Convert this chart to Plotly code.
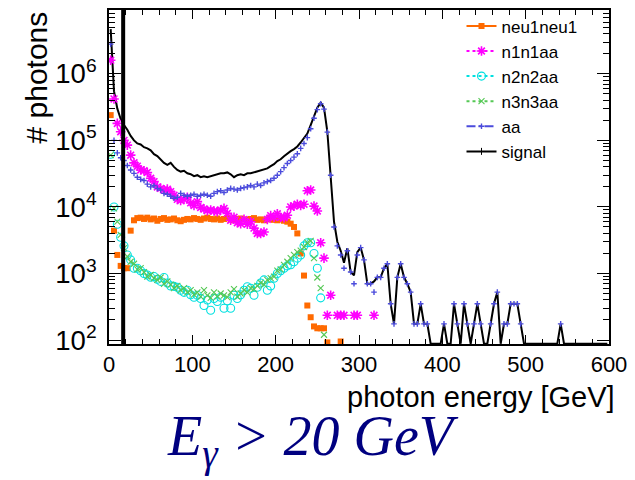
import plotly.graph_objects as go

# ---------------- data (histograms, 4 GeV bins from 0 to 600 GeV) ----------------
N_BINS = 150
E_LOW, E_HIGH = 0.0, 600.0
bin_w = (E_HIGH - E_LOW) / N_BINS
energy = [E_LOW + bin_w * (i + 0.5) for i in range(N_BINS)]

signal = [
    4.7e6, 5.5e5, 3.0e5, 2.1e5, 1.7e5, 1.45e5, 1.17e5, 1.0e5, 9.0e4, 8.7e4,
    7.9e4, 7.6e4, 7.1e4, 6.2e4, 5.8e4, 5.2e4, 4.6e4, 4.3e4, 4.6e4, 4.0e4,
    3.6e4, 3.4e4, 3.5e4, 3.2e4, 3.1e4, 2.9e4, 3.0e4, 2.8e4, 2.9e4, 2.8e4,
    2.9e4, 3.0e4, 3.1e4, 3.2e4, 3.2e4, 3.3e4, 3.1e4, 2.8e4, 3.0e4, 3.1e4,
    3.0e4, 3.2e4, 3.2e4, 3.3e4, 3.4e4, 3.6e4, 3.7e4, 3.8e4, 4.1e4, 4.4e4,
    4.9e4, 5.2e4, 5.8e4, 6.4e4, 6.9e4, 7.4e4, 8.1e4, 9.3e4, 1.07e5, 1.27e5,
    1.7e5, 2.36e5, 3.1e5, 3.7e5, 3.1e5, 1.36e5, 3.2e4, 6.0e3, 3.0e3, 2.2e3,
    1.45e3, 2.4e3, 1.05e3, 935, 2.1e3, 2.45e3, 1.6e3, 700, 700, 760,
    875, 875, 1200, 1400, 350, 175, 875, 1400, 875, 700,
    525, 175, 175, 350, 175, 175, 0, 0, 0, 0,
    175, 0, 0, 350, 175, 0, 350, 175, 0, 175,
    350, 175, 0, 0, 175, 350, 525, 0, 175, 175,
    350, 350, 350, 175, 0, 0, 0, 0, 0, 0,
    0, 0, 0, 0, 0, 175, 0, 0, 0, 0,
    0, 0, 0, 0, 0, 0, 0, 0, 0, 0,
]

aa = [
    2.8e6, 1.0e5, 6.5e4, 5.5e4, 5.0e4, 4.2e4, 3.6e4, 3.2e4, 2.8e4, 2.6e4,
    2.5e4, 2.2e4, 2.0e4, 2.1e4, 1.9e4, 1.8e4, 1.6e4, 1.55e4, 1.45e4, 1.35e4,
    1.4e4, 1.6e4, 1.5e4, 1.45e4, 1.5e4, 1.55e4, 1.45e4, 1.5e4, 1.55e4, 1.5e4,
    1.45e4, 1.6e4, 1.7e4, 1.75e4, 1.65e4, 1.8e4, 1.9e4, 1.85e4, 1.8e4, 1.9e4,
    1.95e4, 2.0e4, 2.1e4, 2.0e4, 2.2e4, 2.1e4, 2.3e4, 2.4e4, 2.5e4, 2.7e4,
    3.0e4, 3.4e4, 3.9e4, 4.5e4, 5.0e4, 5.6e4, 6.3e4, 7.6e4, 9.0e4, 1.1e5,
    1.5e5, 2.15e5, 2.9e5, 3.55e5, 2.95e5, 1.33e5, 3.0e4, 5.0e3, 2.6e3, 1.9e3,
    1.2e3, 2.2e3, 1.05e3, 700, 1.9e3, 2.45e3, 1.6e3, 700, 700, 525,
    875, 875, 1200, 1400, 350, 175, 875, 1400, 875, 700,
    525, 175, 175, 350, 175, 175, 0, 0, 0, 0,
    175, 0, 0, 350, 175, 0, 350, 175, 0, 175,
    350, 175, 0, 0, 175, 350, 525, 0, 175, 175,
    350, 350, 350, 175, 0, 0, 0, 0, 0, 0,
    0, 0, 0, 0, 0, 175, 0, 0, 0, 0,
    0, 0, 0, 0, 0, 0, 0, 0, 0, 0,
]

n1n1aa = [
    1.6e6, 4.2e5, 1.8e5, 1.35e5, 1.0e5, 8.5e4, 6.0e4, 4.6e4, 4.1e4, 3.6e4,
    3.5e4, 3.3e4, 2.7e4, 2.4e4, 2.0e4, 1.9e4, 1.8e4, 1.85e4, 1.7e4, 1.5e4,
    1.3e4, 1.25e4, 1.3e4, 1.4e4, 1.15e4, 1.05e4, 1.2e4, 9.8e3, 9.3e3, 8.8e3,
    9.0e3, 8.7e3, 8.5e3, 9.0e3, 9.5e3, 8.0e3, 6.3e3, 7.0e3, 5.8e3, 5.6e3,
    6.5e3, 5.5e3, 6.0e3, 4.8e3, 4.0e3, 4.0e3, 4.2e3, 6.5e3, 7.4e3, 7.0e3,
    7.9e3, 7.0e3, 6.9e3, 7.5e3, 1.0e4, 1.03e4, 1.1e4, 1.05e4, 1.1e4, 1.75e4,
    1.8e4, 1.03e4, 8.7e3, 2.9e3, 1.7e3, 235, 470, 0, 235, 235,
    235, 0, 0, 235, 235, 0, 0, 0, 0, 235,
    0, 0, 0, 0, 0, 0, 0, 0, 0, 0,
    0, 0, 0, 0, 0, 0, 0, 0, 0, 0,
    0, 0, 0, 0, 0, 0, 0, 0, 0, 0,
    0, 0, 0, 0, 0, 0, 0, 0, 0, 0,
    0, 0, 0, 0, 0, 0, 0, 0, 0, 0,
    0, 0, 0, 0, 0, 0, 0, 0, 0, 0,
    0, 0, 0, 0, 0, 0, 0, 0, 0, 0,
]

neu1neu1 = [
    2.4e5, 4.4e3, 1.9e3, 1.3e3, 1.2e3, 1.2e3, 4.4e3, 6.3e3, 6.8e3, 6.9e3,
    6.6e3, 6.9e3, 6.5e3, 6.7e3, 6.2e3, 6.6e3, 6.8e3, 6.4e3, 6.5e3, 6.7e3,
    6.3e3, 6.1e3, 6.4e3, 6.6e3, 6.5e3, 6.8e3, 6.6e3, 6.4e3, 6.7e3, 6.9e3,
    6.6e3, 6.5e3, 6.7e3, 6.4e3, 6.6e3, 6.8e3, 6.5e3, 6.3e3, 6.6e3, 6.7e3,
    6.5e3, 6.4e3, 6.6e3, 6.8e3, 6.4e3, 6.5e3, 6.3e3, 6.5e3, 6.6e3, 6.4e3,
    6.3e3, 6.5e3, 6.2e3, 6.0e3, 5.6e3, 5.0e3, 4.0e3, 2.0e3, 930, 330,
    220, 160, 150, 150, 150, 92, 0, 0, 0, 95,
    0, 0, 0, 0, 0, 0, 0, 0, 0, 0,
    0, 0, 0, 0, 0, 0, 0, 0, 0, 0,
    0, 0, 0, 0, 0, 0, 0, 0, 0, 0,
    0, 0, 0, 0, 0, 0, 0, 0, 0, 0,
    0, 0, 0, 0, 0, 0, 0, 0, 0, 0,
    0, 0, 0, 0, 0, 0, 0, 0, 0, 0,
    0, 0, 0, 0, 0, 0, 0, 0, 0, 0,
    0, 0, 0, 0, 0, 0, 0, 0, 0, 0,
]

n2n2aa = [
    6.2e4, 1.0e4, 5.5e3, 3.5e3, 2.6e3, 1.9e3, 1.6e3, 1.2e3, 1.2e3, 1.1e3,
    1.0e3, 950, 880, 900, 820, 760, 870, 720, 650, 640,
    620, 560, 520, 560, 480, 440, 470, 420, 330, 400,
    280, 420, 380, 440, 300, 390, 300, 470, 420, 480,
    560, 630, 600, 470, 620, 720, 800, 560, 650, 850,
    1.0e3, 1.1e3, 1.2e3, 1.3e3, 1.35e3, 1.5e3, 1.7e3, 1.9e3, 2.6e3, 2.9e3,
    2.9e3, 2.0e3, 1.2e3, 430, 0, 0, 0, 0, 0, 0,
    0, 0, 0, 0, 0, 0, 0, 0, 0, 0,
    0, 0, 0, 0, 0, 0, 0, 0, 0, 0,
    0, 0, 0, 0, 0, 0, 0, 0, 0, 0,
    0, 0, 0, 0, 0, 0, 0, 0, 0, 0,
    0, 0, 0, 0, 0, 0, 0, 0, 0, 0,
    0, 0, 0, 0, 0, 0, 0, 0, 0, 0,
    0, 0, 0, 0, 0, 0, 0, 0, 0, 0,
    0, 0, 0, 0, 0, 0, 0, 0, 0, 0,
]

n3n3aa = [
    6.0e4, 9.5e3, 6.0e3, 3.8e3, 2.4e3, 1.8e3, 1.5e3, 1.4e3, 1.15e3, 1.2e3,
    1.05e3, 900, 950, 850, 800, 870, 700, 760, 680, 600,
    650, 560, 600, 520, 560, 480, 520, 450, 560, 470,
    430, 520, 450, 500, 470, 440, 520, 580, 450, 500,
    560, 520, 600, 580, 650, 720, 680, 800, 850, 900,
    1.1e3, 1.15e3, 1.35e3, 1.5e3, 1.7e3, 1.9e3, 2.1e3, 2.2e3, 2.5e3, 2.9e3,
    3.1e3, 1.7e3, 870, 600, 120, 0, 0, 0, 0, 0,
    0, 0, 0, 0, 0, 0, 0, 0, 0, 0,
    0, 0, 0, 0, 0, 0, 0, 0, 0, 0,
    0, 0, 0, 0, 0, 0, 0, 0, 0, 0,
    0, 0, 0, 0, 0, 0, 0, 0, 0, 0,
    0, 0, 0, 0, 0, 0, 0, 0, 0, 0,
    0, 0, 0, 0, 0, 0, 0, 0, 0, 0,
    0, 0, 0, 0, 0, 0, 0, 0, 0, 0,
    0, 0, 0, 0, 0, 0, 0, 0, 0, 0,
]

cut_energy = 17  # vertical cut line [GeV]

for arr in (signal, aa, n1n1aa, neu1neu1, n2n2aa, n3n3aa):
    assert len(arr) == N_BINS

# ---------------- styling ----------------
Y_LOG_RANGE = [1.94, 6.96]
floor_val = 10 ** (Y_LOG_RANGE[0] + 0.004)   # empty bins drawn on the frame (ROOT style)

def as_line(vals):
    return [v if v > 0 else floor_val for v in vals]

def as_markers(vals):
    return [v if v > 0 else None for v in vals]

C_ORANGE = "#ff6a00"
C_MAGENTA = "#ff00ff"
C_CYAN = "#00e0e0"
C_GREEN = "#55c855"
C_BLUE = "#4b4bdc"

series = [
    # name, values, color, symbol, size, marker line width, legend dash
    ("neu1neu1", neu1neu1, C_ORANGE, "square", 6, 0, "solid"),
    ("n1n1aa", n1n1aa, C_MAGENTA, "asterisk-open", 8, 1.6, "dot"),
    ("n2n2aa", n2n2aa, C_CYAN, "circle-open", 8, 1.1, "dot"),
    ("n3n3aa", n3n3aa, C_GREEN, "x-thin-open", 6, 1.1, "dot"),
    ("aa", aa, C_BLUE, "cross-thin-open", 4, 1.4, "dashdot"),
]

fig = go.Figure()

# signal histogram line
fig.add_trace(go.Scatter(
    x=energy, y=as_line(signal), mode="lines",
    line=dict(color="black", width=2), showlegend=False, hoverinfo="skip",
))

for name, vals, col, sym, size, lw, dash in series:
    mk = dict(color=col, symbol=sym, size=size)
    if lw:
        mk["line"] = dict(color=col, width=lw)
    fig.add_trace(go.Scatter(
        x=energy, y=as_markers(vals), mode="markers", marker=mk,
        showlegend=False, name=name,
    ))

# legend entries (ROOT style: line + marker)
for name, vals, col, sym, size, lw, dash in series:
    mk = dict(color=col, symbol=sym, size=size)
    if lw:
        mk["line"] = dict(color=col, width=lw)
    fig.add_trace(go.Scatter(
        x=[None], y=[None], mode="lines+markers", name=name,
        line=dict(color=col, width=2, dash=dash), marker=mk,
    ))
fig.add_trace(go.Scatter(
    x=[None], y=[None], mode="lines+markers", name="signal",
    line=dict(color="black", width=2),
    marker=dict(color="black", symbol="line-ns-open", size=5, line=dict(color="black", width=1)),
))

FONT = "Liberation Sans, Arial, sans-serif"

fig.add_shape(type="line", xref="x", yref="paper", x0=cut_energy, x1=cut_energy,
              y0=0, y1=1, line=dict(color="black", width=4))

fig.update_layout(
    width=635, height=480,
    margin=dict(l=109, r=22, t=8, b=136),
    paper_bgcolor="white", plot_bgcolor="white",
    font=dict(family=FONT, color="black"),
    showlegend=True,
    legend=dict(
        x=0.705, xanchor="left", y=1.005, yanchor="top",
        font=dict(size=17, family=FONT, color="black"),
        bgcolor="rgba(0,0,0,0)", borderwidth=0, itemwidth=30,
        tracegroupgap=0,
    ),
    xaxis=dict(
        range=[E_LOW, E_HIGH], dtick=100, tick0=0,
        showline=True, linecolor="black", linewidth=2, mirror="ticks",
        ticks="inside", ticklen=9, tickwidth=1, tickcolor="black",
        minor=dict(ticks="inside", dtick=20, ticklen=5, tickcolor="black", showgrid=False),
        showgrid=False, zeroline=False,
        tickfont=dict(size=22, family=FONT, color="black"),
    ),
    yaxis=dict(
        type="log", range=Y_LOG_RANGE, dtick=1,
        exponentformat="power", showexponent="all",
        showline=True, linecolor="black", linewidth=2, mirror="ticks",
        ticks="inside", ticklen=12, tickwidth=1, tickcolor="black",
        minor=dict(ticks="inside", ticklen=6, tickcolor="black", showgrid=False),
        showgrid=False, zeroline=False,
        tickfont=dict(size=22, family=FONT, color="black"),
        ticklabelstandoff=6,
    ),
    annotations=[
        dict(text="# photons", xref="paper", yref="paper", x=-0.147, y=1.0,
             xanchor="center", yanchor="top", textangle=-90, showarrow=False,
             font=dict(size=30, family=FONT, color="black")),
        dict(text="photon energy [GeV]", xref="paper", yref="paper", x=1.015, y=-0.158,
             xanchor="right", yanchor="middle", showarrow=False,
             font=dict(size=29, family=FONT, color="black")),
        dict(text="<i>E<sub>γ</sub> &gt; 20 GeV</i>", xref="paper", yref="paper",
             x=0.112, y=-0.29, xanchor="left", yanchor="middle", showarrow=False,
             font=dict(size=56, family="Liberation Serif, Times New Roman, serif", color="#000080")),
    ],
)

fig.write_html("out.html")
